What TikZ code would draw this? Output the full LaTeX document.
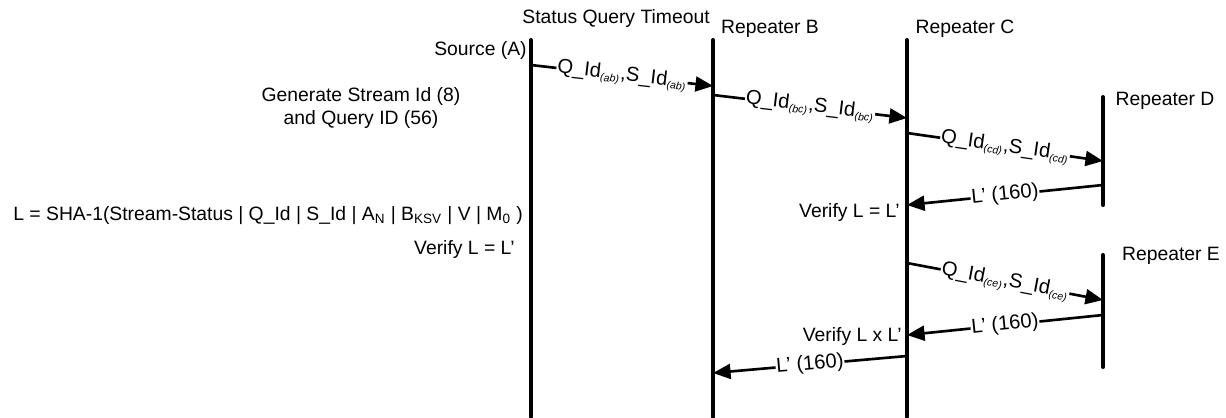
\documentclass[tikz,border=0pt]{standalone}
\usepackage{fontspec}
\setmainfont{Liberation Sans}
\usetikzlibrary{arrows.meta}
\newcommand{\sub}[1]{\textsubscript{\fontsize{6}{7}\selectfont\itshape (#1)}}
\begin{document}
\begin{tikzpicture}[x=0.02cm,y=-0.02cm,
    lifeline/.style={line width=2.3pt, line cap=round},
    msg/.style={line width=1.5pt, -{Triangle[length=10pt,width=8.5pt]}},
    msglabel/.style={fill=white, inner sep=0.5pt, sloped, font=\fontsize{11.5}{13}\selectfont},
    txt/.style={font=\fontsize{11}{13}\selectfont, inner sep=0pt}]
    \useasboundingbox (0,0) rectangle (1226,417);
    \draw[lifeline] (531,40) coordinate (atop) -- (531,417) coordinate (abot);
    \draw[lifeline] (713,40) coordinate (btop) -- (713,417) coordinate (bbot);
    \draw[lifeline] (907,40) coordinate (ctop) -- (907,417) coordinate (cbot);
    \draw[lifeline] (1103,97) coordinate (dtop) -- (1103,205) coordinate (dbot);
    \draw[lifeline] (1103,255) coordinate (etop) -- (1103,367) coordinate (ebot);
    \coordinate (a1) at (531,65);
    \coordinate (b1) at (713,86);
    \coordinate (b2) at (713,95);
    \coordinate (c1) at (907,118);
    \coordinate (c2) at (907,133);
    \coordinate (d1) at (1103,161);
    \coordinate (d2) at (1103,185);
    \coordinate (c3) at (907,205);
    \coordinate (c4) at (907,263);
    \coordinate (e1) at (1103,300);
    \coordinate (e2) at (1103,315);
    \coordinate (c5) at (907,335);
    \coordinate (c6) at (907,356);
    \coordinate (b3) at (713,373);
    \draw[msg] (a1) -- node[msglabel] {Q\_Id\sub{ab},S\_Id\sub{ab}} (b1);
    \draw[msg] (b2) -- node[msglabel] {Q\_Id\sub{bc},S\_Id\sub{bc}} (c1);
    \draw[msg] (c2) -- node[msglabel] {Q\_Id\sub{cd},S\_Id\sub{cd}} (d1);
    \draw[msg] (d2) -- node[msglabel] {L’ (160)} (c3);
    \draw[msg] (c4) -- node[msglabel] {Q\_Id\sub{ce},S\_Id\sub{ce}} (e1);
    \draw[msg] (e2) -- node[msglabel] {L’ (160)} (c5);
    \draw[msg] (c6) -- node[msglabel] {L’ (160)} (b3);
    \node[txt] (timeout) at (616,18) {Status Query Timeout};
    \node[txt] (repb) at (770,29) {Repeater B};
    \node[txt] (repc) at (965,29) {Repeater C};
    \node[txt] (repd) at (1165,101) {Repeater D};
    \node[txt] (repe) at (1171,256) {Repeater E};
    \node[txt, anchor=east] (source) at (527,50) {Source (A)};
    \node[txt, align=center] (gen) at (361,108) {Generate Stream Id (8)\\and Query ID (56)};
    \node[txt, anchor=west] (sha) at (13,216) {L = SHA-1(Stream-Status | Q\_Id | S\_Id | A\textsubscript{N} | B\textsubscript{KSV} | V | M\textsubscript{0} )};
    \node[txt, anchor=east] (verifya) at (515,249) {Verify L = L’};
    \node[txt, anchor=east] (verifyc) at (900,212) {Verify L = L’};
    \node[txt, anchor=east] (verifyx) at (902,336) {Verify L x L’};
\end{tikzpicture}
\end{document}
